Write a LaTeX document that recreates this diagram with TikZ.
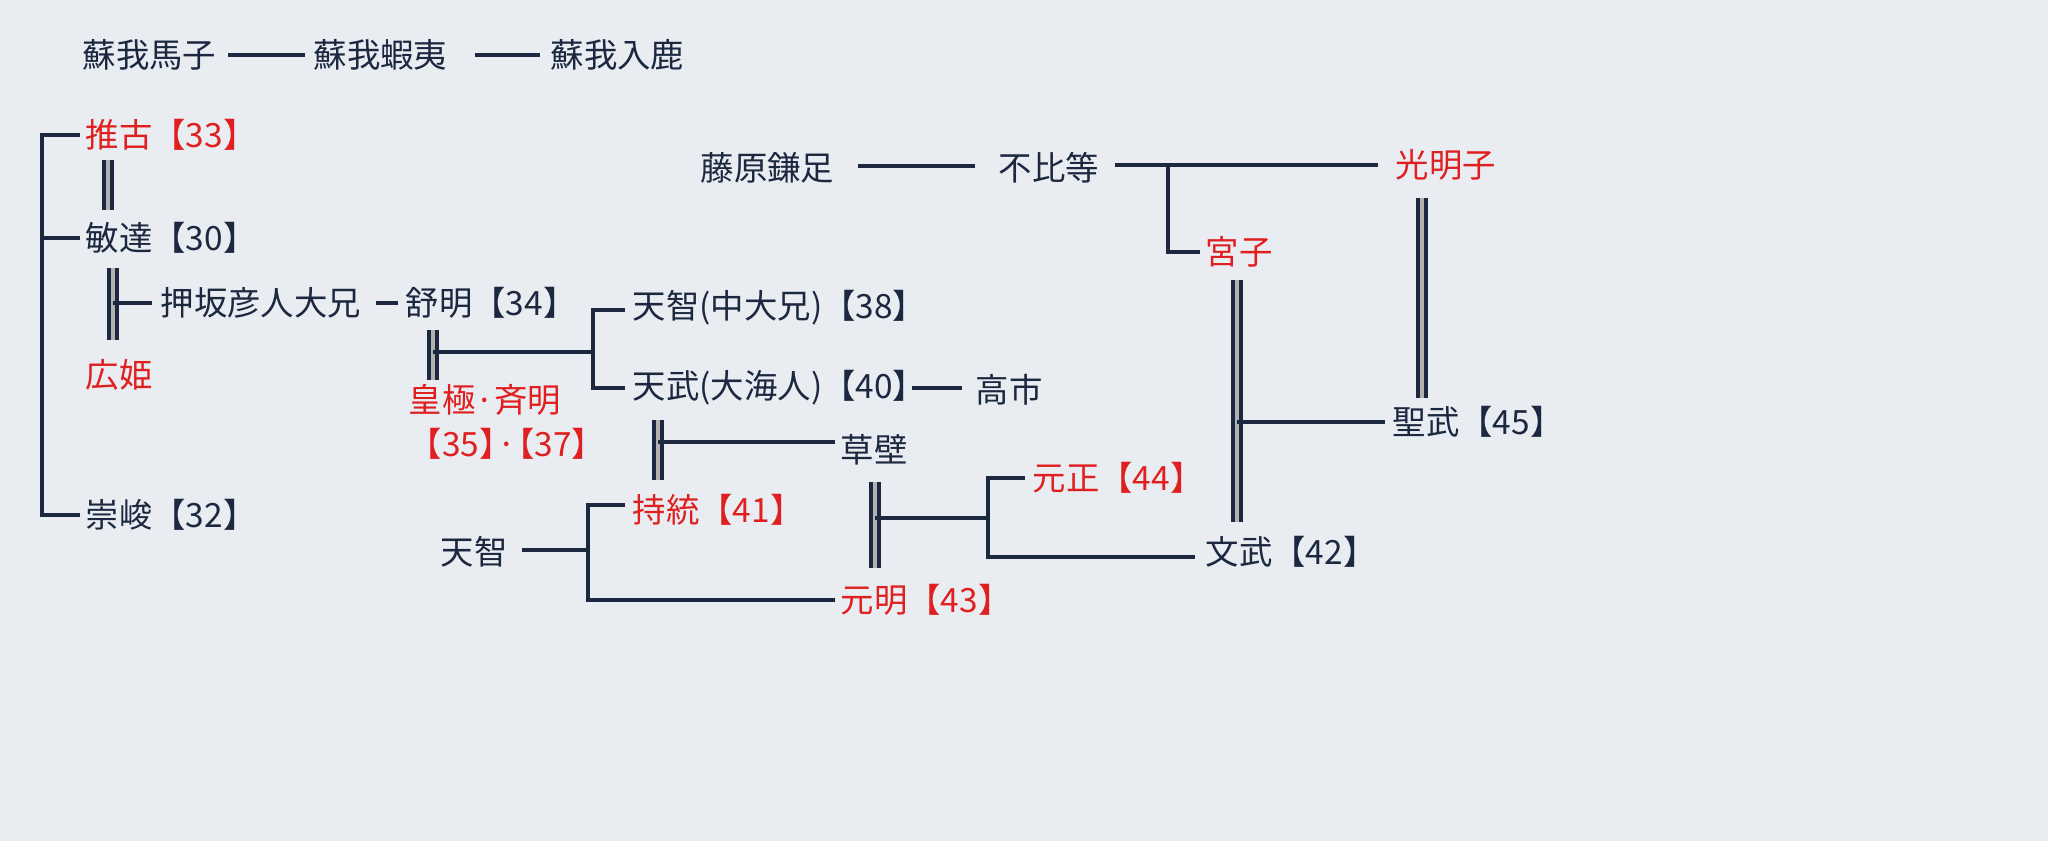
\documentclass[tikz,border=0pt]{standalone}
\usepackage{fontspec}
\setmainfont{Noto Sans CJK JP}
\definecolor{lineblue}{HTML}{1C2740}
\definecolor{kred}{HTML}{E02020}
\definecolor{bg}{HTML}{E9EDF1}
\tikzset{
  person/.style={anchor=west, inner sep=0pt, text=lineblue, font=\fontsize{9.5}{12.5}\selectfont},
  empress/.style={person, text=kred},
  link/.style={draw=lineblue, line width=1.1pt},
  wed/.style={draw=lineblue, line width=1pt, double=gray!60, double distance=1.2pt},
}
\begin{document}
\begin{tikzpicture}[x=0.01cm, y=-0.01cm]
	%background
	\fill[bg] (0,0) rectangle (2048,841);
	%soga
	\node[person] (umako) at (82,55) {蘇我馬子};
	\node[person] (emishi) at (313,55) {蘇我蝦夷};
	\node[person] (iruka) at (550,55) {蘇我入鹿};
	\draw[link] (228,55) -- (305,55);
	\draw[link] (475,55) -- (540,55);
	%left column
	\node[empress] (suiko) at (85,135) {推古【33】};
	\node[person] (bidatsu) at (85,238) {敏達【30】};
	\node[empress] (hiro) at (85,375) {広姫};
	\node[person] (sushun) at (85,515) {崇峻【32】};
	\draw[link] (80,135) -| (42,515) -- (80,515);
	\draw[link] (42,238) -- (80,238);
	\draw[wed] (108,160) -- (108,210);
	\draw[wed] (113,268) -- (113,340);
	\node[person] (oshi) at (160,303) {押坂彦人大兄};
	\node[person] (jomei) at (405,303) {舒明【34】};
	\draw[link] (113,303) -- (152,303);
	\draw[link] (376,303) -- (398,303);
	%jomei line
	\node[empress, align=left] (kogyoku) at (408,422) {皇極·斉明\\【35】\kern-0.45em·\kern-0.45em【37】};
	\draw[wed] (433,330) -- (433,380);
	\node[person] (tenji) at (632,308) {天智(中大兄)【38】};
	\node[person] (tenmu) at (632,388) {天武(大海人)【40】};
	\node[person] (takechi) at (975,390) {高市};
	\draw[link] (433,352) -- (593,352);
	\draw[link] (625,310) -| (593,388) -- (625,388);
	\draw[link] (912,388) -- (962,388);
	%tenmu line
	\draw[wed] (658,420) -- (658,480);
	\node[person] (kusakabe) at (840,450) {草壁};
	\draw[link] (658,442) -- (835,442);
	\node[empress] (jito) at (632,510) {持統【41】};
	\node[person] (tenji2) at (440,552) {天智};
	\node[empress] (genmei) at (840,600) {元明【43】};
	\draw[link] (522,550) -- (588,550);
	\draw[link] (625,505) -| (588,600) -- (835,600);
	%kusakabe line
	\draw[wed] (875,482) -- (875,568);
	\node[empress] (gensho) at (1032,478) {元正【44】};
	\node[person] (monmu) at (1205,552) {文武【42】};
	\draw[link] (875,518) -- (988,518);
	\draw[link] (1025,478) -| (988,557) -- (1195,557);
	%fujiwara
	\node[person] (kamatari) at (700,168) {藤原鎌足};
	\node[person] (fuhito) at (998,168) {不比等};
	\node[empress] (komyo) at (1395,165) {光明子};
	\node[empress] (miyako) at (1205,252) {宮子};
	\draw[link] (858,166) -- (975,166);
	\draw[link] (1115,165) -- (1378,165);
	\draw[link] (1168,165) |- (1200,252);
	\draw[wed] (1237,280) -- (1237,522);
	\draw[wed] (1422,198) -- (1422,398);
	\node[person] (shomu) at (1392,422) {聖武【45】};
	\draw[link] (1237,422) -- (1385,422);
\end{tikzpicture}
\end{document}
